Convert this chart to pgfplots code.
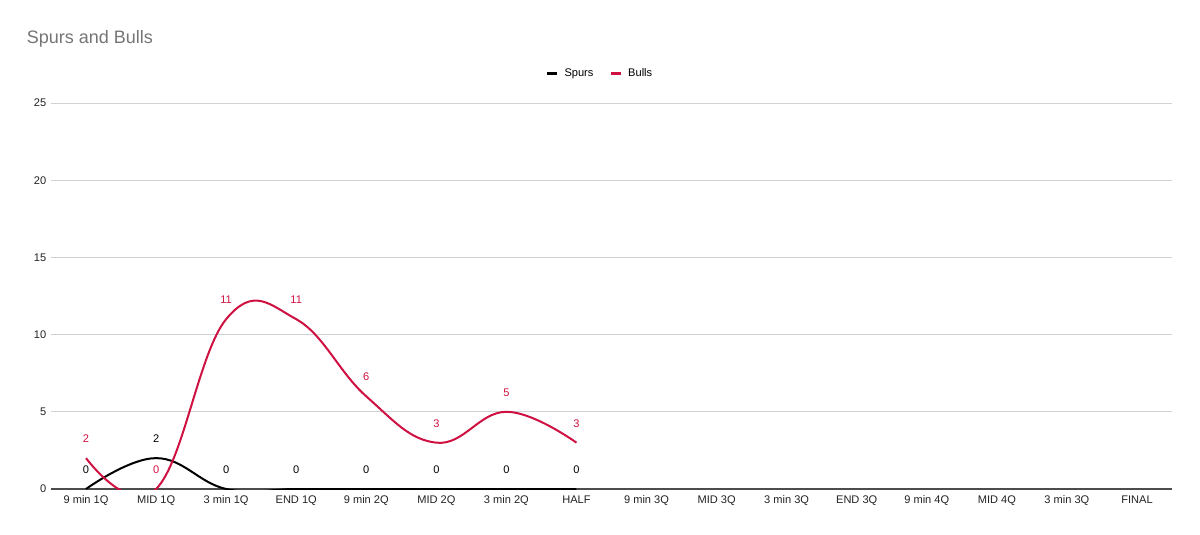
\documentclass[border=0pt]{standalone}
\usepackage{pgfplots}
\pgfplotsset{compat=1.18}
\usepackage{fontspec}
\setmainfont{Liberation Sans}
\definecolor{bulls}{RGB}{206,17,65}
\definecolor{gridc}{RGB}{210,210,210}
\definecolor{titlec}{RGB}{117,117,117}
\definecolor{labc}{RGB}{34,34,34}
\begin{document}
\begin{tikzpicture}
\path[use as bounding box] (0pt,0pt) rectangle (900pt,-401.25pt);
\node[anchor=west,text=titlec,font=\fontsize{13.5}{16}\selectfont,inner sep=0pt] at (20pt,-29pt) {Spurs and Bulls};
\begin{axis}[
  at={(38.25pt,-366.75pt)}, anchor=south west,
  scale only axis, width=840.75pt, height=289.5pt,
  xmin=-0.5, xmax=15.5, ymin=0, ymax=25,
  xtick={0,...,15},
  xticklabels={9 min 1Q, MID 1Q, 3 min 1Q, END 1Q, 9 min 2Q, MID 2Q, 3 min 2Q, HALF, 9 min 3Q, MID 3Q, 3 min 3Q, END 3Q, 9 min 4Q, MID 4Q, 3 min 3Q, FINAL},
  ytick={0,5,...,25},
  ymajorgrids, grid style={gridc, line width=0.75pt},
  axis line style={draw=none},
  major tick length=0pt,
  tick label style={font=\fontsize{8.3}{10}\selectfont, text=labc},
  /pgf/number format/assume math mode=true,
  xticklabel style={yshift=-1.5pt},
  yticklabel style={xshift=0pt},
  legend columns=2,
  legend style={at={(0.49,1.077)}, anchor=center, draw=none, fill=none,
    font=\fontsize{8.3}{10}\selectfont, column sep=2pt,
    /tikz/every even column/.append style={column sep=10pt}},
  legend image code/.code={\draw[line width=2.6pt] (0pt,0pt) -- (7.5pt,0pt);},
  nodes near coords,
  every node near coord/.append style={font=\fontsize{8.3}{10}\selectfont, anchor=center, yshift=14.5pt},
]
\addplot[forget plot, draw=black!70, line width=0.8pt, nodes near coords={}] coordinates {(-0.5,0) (15.5,0)};
\addplot[black, line width=1.5pt, smooth, tension=0.7, no markers, every node near coord/.append style={text=black}] coordinates {
(0,0) (1,2) (2,0) (3,0) (4,0) (5,0) (6,0) (7,0)};
\addlegendentry{Spurs}
\addplot[bulls, line width=1.5pt, smooth, tension=0.7, no markers, every node near coord/.append style={text=bulls}] coordinates {
(0,2) (1,0) (2,11) (3,11) (4,6) (5,3) (6,5) (7,3)};
\addlegendentry{Bulls}
\end{axis}
\end{tikzpicture}
\end{document}
